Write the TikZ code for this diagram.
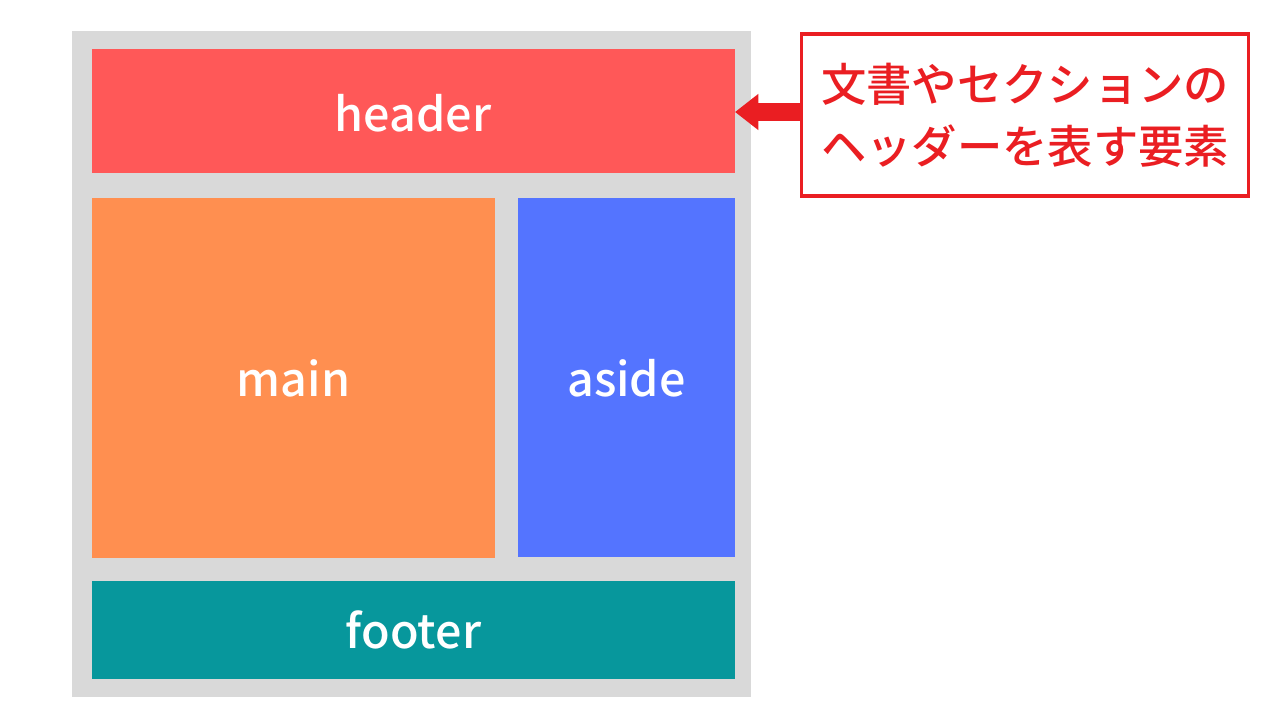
\documentclass[tikz,border=0pt]{standalone}
\usepackage{fontspec}
\newfontfamily\jpfont{Noto Sans CJK JP}[UprightFont=* Medium]
\usetikzlibrary{arrows.meta}
\definecolor{bggray}{RGB}{217,217,217}
\definecolor{hdrcol}{RGB}{255,88,88}
\definecolor{maincol}{RGB}{255,143,80}
\definecolor{asidecol}{RGB}{84,116,255}
\definecolor{footcol}{RGB}{7,151,156}
\definecolor{callred}{RGB}{234,30,34}
\tikzset{
  area/.style={draw=none, inner sep=0pt, text=white, font=\jpfont\fontsize{35}{40}\selectfont},
  callout/.style={draw=none, fill=none, inner sep=0pt, text=callred,
    align=center, font=\jpfont\fontsize{34}{46.5}\selectfont}
}
\begin{document}
\begin{tikzpicture}[x=0.75pt,y=-0.75pt]
\useasboundingbox (0,0) rectangle (1280,720);
\fill[bggray] (72,31) rectangle (751,697);
\fill[hdrcol] (92,49) rectangle (735,173);
\fill[maincol] (92,198) rectangle (495,558);
\fill[asidecol] (518,198) rectangle (735,557);
\fill[footcol] (92,581) rectangle (735,679);
\coordinate (hdrE) at (735,112);
\node[area] (header) at (413,113) {header};
\node[area] (main) at (293.5,378) {main};
\node[area] (aside) at (626.5,378) {aside};
\node[area] (footer) at (413.5,630) {footer};
\draw[callred, line width=2.7pt] (801.5,34) rectangle (1248.5,196);
\node[callout] (note) at (1025,115) {文書やセクションの\\ヘッダーを表す要素};
\coordinate (noteW) at (801,112);
\draw[callred, line width=13pt, -{Triangle[length=17.5pt,width=26pt]}] (noteW) -- (hdrE);
\end{tikzpicture}
\end{document}
